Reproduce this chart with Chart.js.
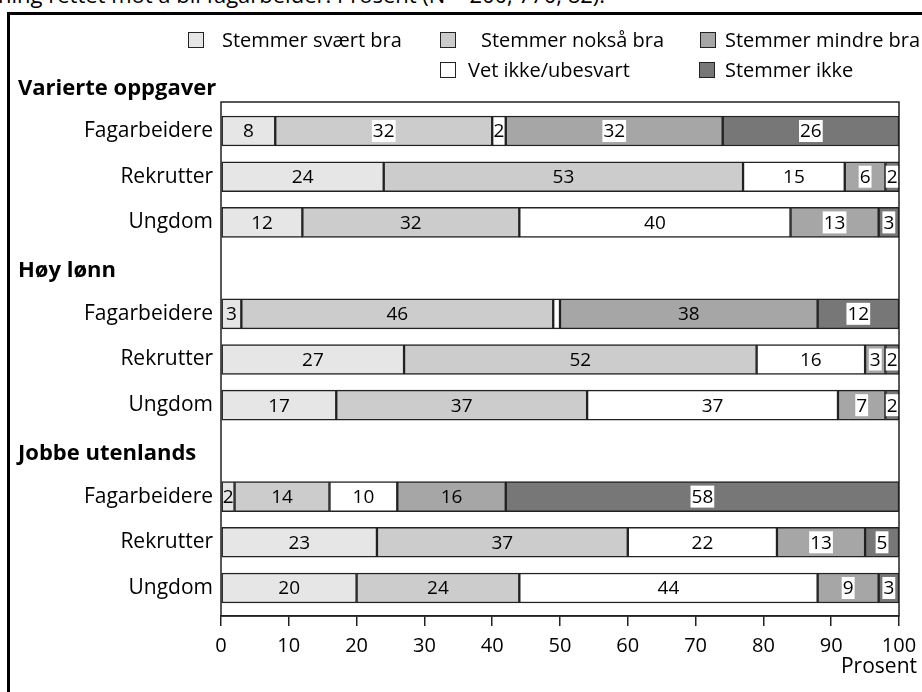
<!DOCTYPE html>
<html>
<head>
<meta charset="utf-8">
<script src="https://cdn.jsdelivr.net/npm/chart.js@4/dist/chart.umd.min.js"></script>
<style>
  html, body { margin:0; padding:0; background:#fff; }
  body { width:922px; height:692px; position:relative; overflow:hidden; font-family:"Open Sans", sans-serif; }
  #caption { position:absolute; left:-2px; top:-17px; font-size:22px; line-height:22px; color:#000; white-space:nowrap; }
  #frame { position:absolute; left:7px; top:12px; width:2000px; height:2000px; border-left:3px solid #000; border-top:3px solid #000; }
  #wrap { position:absolute; left:0; top:0; width:922px; height:692px; }
  .lg-box { position:absolute; width:14px; height:14px; border:1.5px solid #222; }
  .lg-txt { position:absolute; font-size:20px; line-height:20px; color:#000; white-space:nowrap; }
</style>
</head>
<body>
<div id="caption">ning rettet mot å bli fagarbeider. Prosent (N = 200, 770, 82).</div>
<div id="frame"></div>
<div id="wrap"><canvas id="c" width="922" height="692"></canvas></div>
<div id="legend"></div>
<script>
// ---- data ----
const groups = ['Varierte oppgaver', 'Høy lønn', 'Jobbe utenlands'];
const rows = ['Fagarbeidere', 'Rekrutter', 'Ungdom'];
const seriesNames = ['Stemmer svært bra', 'Stemmer nokså bra', 'Vet ikke/ubesvart', 'Stemmer mindre bra', 'Stemmer ikke'];
const svaertBra   = [8, 24, 12,   3, 27, 17,   2, 23, 20];
const noksaaBra   = [32, 53, 32,  46, 52, 37,  14, 37, 24];
const vetIkke     = [2, 15, 40,   1, 16, 37,   10, 22, 44];
const mindreBra   = [32, 6, 13,   38, 3, 7,    16, 13, 9];
const stemmerIkke = [26, 2, 3,    12, 2, 2,    58, 5, 3];
const xTickMin = 0, xTickMax = 100, xTickStep = 10;
const axisUnit = 'Prosent';

// ---- styles ----
const colors = ['#e6e6e6', '#cccccc', '#ffffff', '#a6a6a6', '#777777'];
const labelBoxes = {1: [0], 3: [0, 1, 2, 4, 5, 7, 8], 4: [0, 1, 2, 3, 4, 5, 6, 7, 8]};
const legendLayout = [
  {box: [188, 32], txt: [222, 30]},
  {box: [440, 32], txt: [481, 30]},
  {box: [440, 62], txt: [468, 60]},
  {box: [700, 32], txt: [725, 30]},
  {box: [699, 62], txt: [725, 60]}
];

// row positions on the index axis: each group has a header slot then its rows
const rowPos = [], rowLabels = [], headerPos = [];
groups.forEach((g, gi) => {
  headerPos.push(gi * (rows.length + 1));
  rows.forEach((r, ri) => { rowPos.push(gi * (rows.length + 1) + 1 + ri); rowLabels.push(r); });
});

const seriesValues = [svaertBra, noksaaBra, vetIkke, mindreBra, stemmerIkke];
const datasets = seriesNames.map((name, si) => ({
  label: name,
  data: seriesValues[si].map((v, i) => ({x: v, y: rowPos[i]})),
  backgroundColor: colors[si],
  borderColor: '#222',
  borderWidth: 1.5,
  borderSkipped: false,
  barThickness: 30
}));

// HTML legend
const lg = document.getElementById('legend');
seriesNames.forEach((name, si) => {
  const L = legendLayout[si];
  const b = document.createElement('div'); b.className = 'lg-box';
  b.style.left = L.box[0] + 'px'; b.style.top = L.box[1] + 'px'; b.style.background = colors[si];
  const t = document.createElement('div'); t.className = 'lg-txt';
  t.style.left = L.txt[0] + 'px'; t.style.top = L.txt[1] + 'px'; t.textContent = name;
  lg.appendChild(b); lg.appendChild(t);
});

const decor = {
  id: 'decor',
  afterDatasetsDraw(chart) {
    const ctx = chart.ctx, a = chart.chartArea, ys = chart.scales.y;
    ctx.save();
    // value labels
    ctx.font = '19px "Open Sans"';
    ctx.textAlign = 'center'; ctx.textBaseline = 'middle';
    chart.data.datasets.forEach((ds, di) => {
      const meta = chart.getDatasetMeta(di);
      meta.data.forEach((el, i) => {
        const v = ds.data[i].x;
        if (v < 2) return;
        const p = el.getCenterPoint();
        const txt = String(v);
        if (labelBoxes[di] && labelBoxes[di].includes(i)) {
          const w = ctx.measureText(txt).width;
          ctx.fillStyle = '#fff';
          ctx.fillRect(p.x - w / 2 - 1, p.y - 11, w + 2, 22);
        }
        ctx.fillStyle = '#000';
        ctx.fillText(txt, p.x, p.y + 1);
      });
    });
    // plot frame
    ctx.strokeStyle = '#222'; ctx.lineWidth = 1.5;
    ctx.strokeRect(a.left, a.top, a.right - a.left, a.bottom - a.top);
    // group headers
    ctx.font = 'bold 22px "Open Sans"';
    ctx.textAlign = 'left'; ctx.fillStyle = '#000';
    groups.forEach((g, gi) => {
      ctx.fillText(g, 18, ys.getPixelForValue(headerPos[gi]) + 3);
    });
    // axis unit
    ctx.font = '21px "Open Sans"';
    ctx.textAlign = 'right';
    ctx.fillText(axisUnit, a.right + 18, 667);
    ctx.restore();
  }
};

new Chart(document.getElementById('c'), {
  type: 'bar',
  data: { datasets },
  options: {
    indexAxis: 'y',
    responsive: false,
    animation: false,
    layout: { padding: { top: 102, right: 23, left: 0, bottom: 0 } },
    plugins: { legend: { display: false }, tooltip: { enabled: false } },
    scales: {
      x: {
        type: 'linear', stacked: true, min: xTickMin, max: xTickMax, offset: false,
        ticks: { stepSize: xTickStep, color: '#000', font: { family: 'Open Sans', size: 20 }, padding: 8, maxRotation: 0 },
        grid: { drawOnChartArea: false, drawTicks: true, tickLength: 10, color: '#222', lineWidth: 1.5, offset: false },
        border: { display: true, color: '#222', width: 1.5 },
        afterFit(s) { s.height = 692 - 616; s.paddingRight = 0; s.paddingLeft = 0; }
      },
      y: {
        type: 'linear', stacked: true, reverse: true, offset: false,
        min: 0.365, max: 11.613,
        afterBuildTicks(s) { s.ticks = rowPos.map(v => ({ value: v })); },
        ticks: {
          color: '#000', font: { family: 'Open Sans', size: 21 }, padding: 8, autoSkip: false,
          callback: (value, index) => rowLabels[index]
        },
        grid: { display: false, drawTicks: false, offset: false },
        border: { display: false },
        afterFit(s) { s.width = 221; s.paddingTop = 0; s.paddingBottom = 0; }
      }
    }
  },
  plugins: [decor]
});
</script>
</body>
</html>
